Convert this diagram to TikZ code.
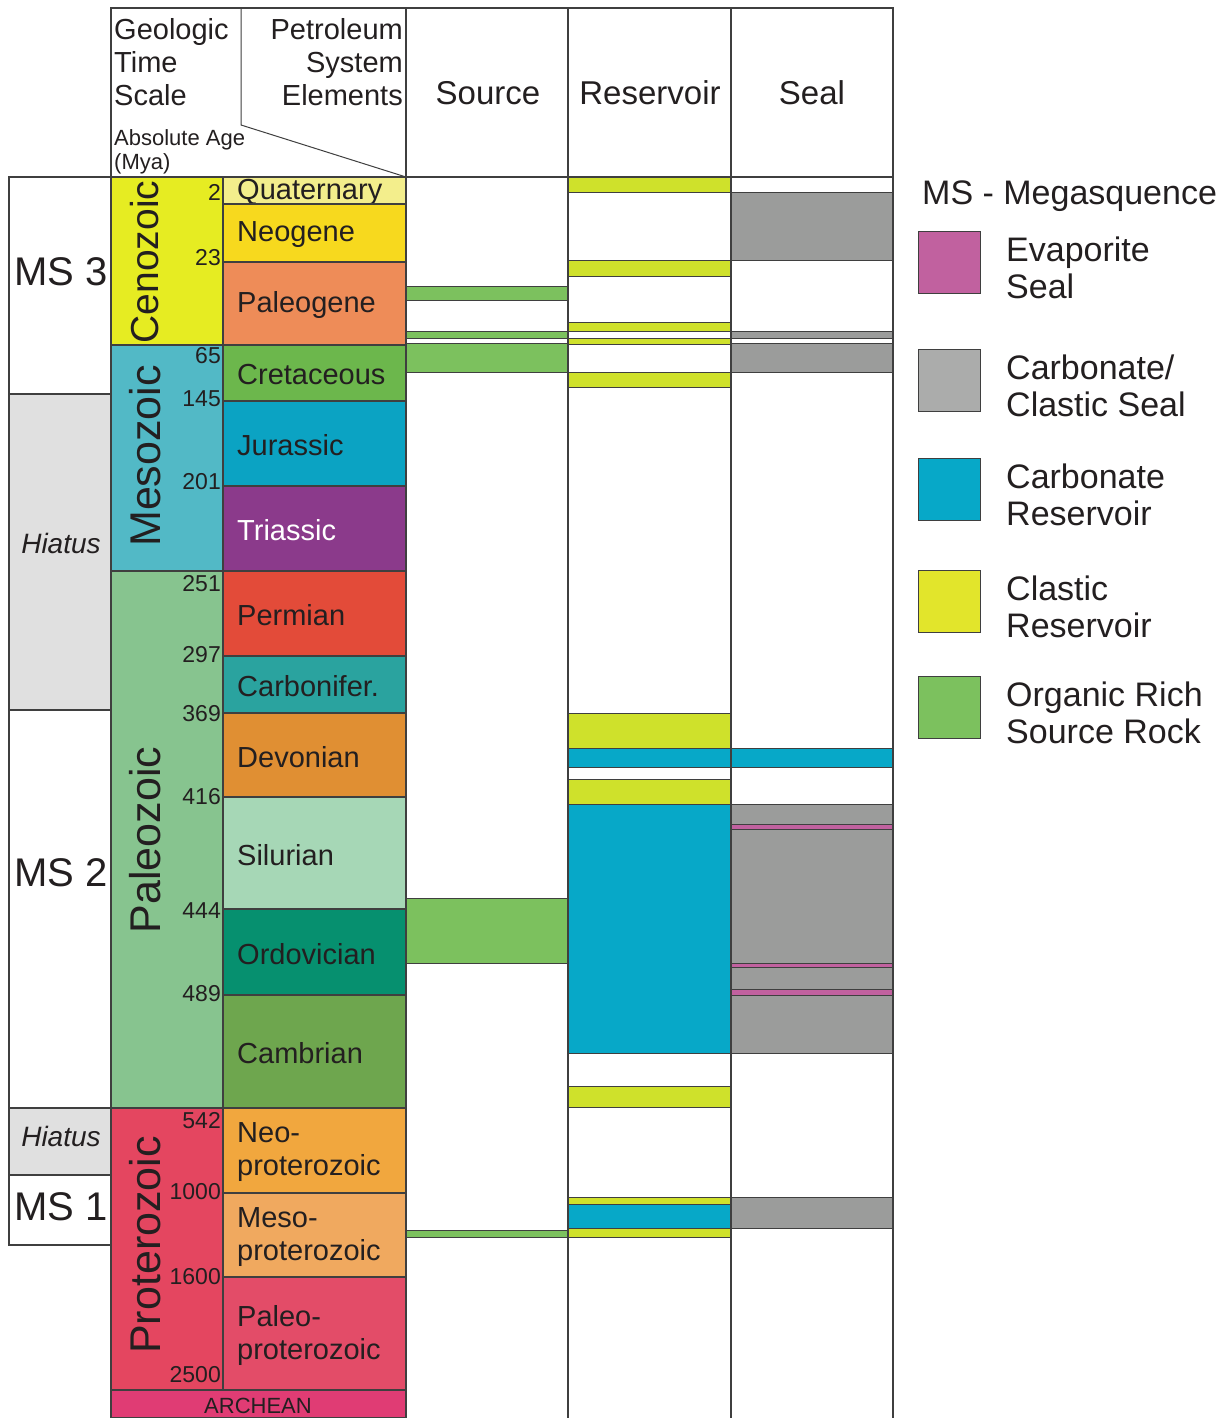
\documentclass[tikz,border=0pt]{standalone}
\usepackage{fontspec}
\setmainfont{Liberation Sans}
\usepackage{tikz}

\definecolor{linegray}{HTML}{3F3F3F}
\definecolor{textdark}{HTML}{231F20}
\definecolor{hiatusgray}{HTML}{E0E0E0}
\definecolor{cQuat}{HTML}{F3EE8C}
\definecolor{cNeog}{HTML}{F7D91E}
\definecolor{cPaleog}{HTML}{EE8C58}
\definecolor{cCret}{HTML}{6CB74C}
\definecolor{cJur}{HTML}{0BA3C3}
\definecolor{cTri}{HTML}{8B3A8B}
\definecolor{cPerm}{HTML}{E34B39}
\definecolor{cCarb}{HTML}{2AA39F}
\definecolor{cDev}{HTML}{E08F33}
\definecolor{cSil}{HTML}{A6D7B6}
\definecolor{cOrd}{HTML}{06906F}
\definecolor{cCamb}{HTML}{6EA64E}
\definecolor{cNeoP}{HTML}{F1A73E}
\definecolor{cMesoP}{HTML}{F0A95F}
\definecolor{cPaleoP}{HTML}{E34C68}
\definecolor{cCeno}{HTML}{E6EC22}
\definecolor{cMeso}{HTML}{52B9C6}
\definecolor{cPaleoz}{HTML}{87C48F}
\definecolor{cProt}{HTML}{E44660}
\definecolor{cArch}{HTML}{E03C74}
\definecolor{resyellow}{HTML}{CFE12B}
\definecolor{carbblue}{HTML}{07A8C8}
\definecolor{sealgray}{HTML}{9B9C9B}
\definecolor{srcgreen}{HTML}{7CC15E}
\definecolor{evappink}{HTML}{C1619F}
\definecolor{leggray}{HTML}{ABACAB}
\definecolor{legyellow}{HTML}{E2E52B}

\tikzset{
  cell/.style={draw=linegray,line width=1.3pt},
  bar/.style={draw=linegray,line width=1pt},
  gridline/.style={draw=linegray,line width=1.3pt},
  pername/.style={anchor=west,inner sep=0pt,align=left,font=\fontsize{29}{33}\selectfont},
  agelabel/.style={anchor=east,inner sep=0pt,text=textdark,font=\fontsize{23}{23}\selectfont},
  eraname/.style={rotate=90,inner sep=0pt,text=textdark,font=\fontsize{43}{43}\selectfont},
  mslabel/.style={inner sep=0pt,text=textdark,font=\fontsize{40}{40}\selectfont},
  hiatuslabel/.style={inner sep=0pt,text=textdark,font=\fontsize{28}{28}\selectfont\itshape},
  headtext/.style={inner sep=0pt,text=textdark,font=\fontsize{29}{33}\selectfont},
  colhead/.style={inner sep=0pt,text=textdark,font=\fontsize{33}{33}\selectfont},
  legtext/.style={anchor=west,inner sep=0pt,align=left,text=textdark,font=\fontsize{34}{37}\selectfont}
}

\begin{document}
\begin{tikzpicture}[x=1pt,y=-1pt]
    \useasboundingbox[fill=white] (0,0) rectangle (1231,1418);

    \begin{scope}
    \foreach \top/\bot/\col in {177/394/white,394/710/hiatusgray,710/1108/white,1108/1175/hiatusgray,1175/1245/white}
      \draw[cell,fill=\col] (9,\top) rectangle (111,\bot);
    \node[mslabel] (ms3) at (61,272) {MS 3};
    \node[hiatuslabel] (hiatus-upper) at (61,543) {Hiatus};
    \node[mslabel] (ms2) at (61,873) {MS 2};
    \node[hiatuslabel] (hiatus-lower) at (61,1136) {Hiatus};
    \node[mslabel] (ms1) at (61,1207) {MS 1};
    \end{scope}

    \begin{scope}
    \foreach \top/\bot/\col in {177/345/cCeno,345/571/cMeso,571/1108/cPaleoz,1108/1390/cProt}
      \draw[cell,fill=\col] (111,\top) rectangle (223,\bot);
    \node[eraname,font=\fontsize{39}{39}\selectfont] (ceno) at (145,262) {Cenozoic};
    \node[eraname] (meso) at (145,456) {Mesozoic};
    \node[eraname] (paleoz) at (145,840) {Paleozoic};
    \node[eraname] (prot) at (145,1245) {Proterozoic};
    \end{scope}

    \begin{scope}
    \foreach \nm/\top/\bot/\col/\tc/\txt in {
        quat/177/204/cQuat/textdark/Quaternary,
        neog/204/262/cNeog/textdark/Neogene,
        paleog/262/345/cPaleog/textdark/Paleogene,
        cret/345/401/cCret/textdark/Cretaceous,
        jur/401/486/cJur/textdark/Jurassic,
        tri/486/571/cTri/white/Triassic,
        perm/571/656/cPerm/textdark/Permian,
        carb/656/713/cCarb/textdark/Carbonifer.,
        dev/713/797/cDev/textdark/Devonian,
        sil/797/909/cSil/textdark/Silurian,
        ord/909/995/cOrd/textdark/Ordovician,
        camb/995/1108/cCamb/textdark/Cambrian,
        neop/1108/1193/cNeoP/textdark/Neo-\\proterozoic,
        mesop/1193/1277/cMesoP/textdark/Meso-\\proterozoic,
        paleop/1277/1390/cPaleoP/textdark/Paleo-\\proterozoic}
    {
      \draw[cell,fill=\col] (223,\top) rectangle (406,\bot);
      \node[pername,text=\tc] (per-\nm) at (237,{(\top+\bot)/2+2}) {\txt};
    }
    \draw[cell,fill=cArch] (111,1390) rectangle (406,1418);
    \node[inner sep=0pt,text=textdark,font=\fontsize{22}{22}\selectfont] (archean) at (258,1406) {ARCHEAN};
    \foreach \a/\y in {2/192,23/258,65/356,145/399,201/482,251/584,297/655,369/714,416/797,444/911,489/994,542/1121,1000/1192,1600/1277,2500/1375}
      \node[agelabel] (age-\a) at (221,\y) {\a};
    \end{scope}

    \foreach \x/\xx/\top/\bot/\col in {
        406/568/286/300/srcgreen, 406/568/331/338/srcgreen, 406/568/343/372/srcgreen,
        406/568/898/963/srcgreen, 406/568/1230/1237/srcgreen,
        568/731/177/192/resyellow, 568/731/260/276/resyellow, 568/731/322/331/resyellow,
        568/731/338/344/resyellow, 568/731/372/387/resyellow, 568/731/713/748/resyellow,
        568/731/779/804/resyellow, 568/731/1086/1107/resyellow, 568/731/1197/1204/resyellow,
        568/731/1228/1237/resyellow,
        568/893/748/767/carbblue, 568/731/804/1053/carbblue, 568/731/1204/1228/carbblue,
        731/893/192/260/sealgray, 731/893/331/338/sealgray, 731/893/343/372/sealgray,
        731/893/804/1053/sealgray, 731/893/1197/1228/sealgray,
        731/893/824/829/evappink, 731/893/963/967/evappink, 731/893/989/995/evappink}
      \draw[bar,fill=\col] (\x,\top) rectangle (\xx,\bot);

    \draw[gridline] (111,1418) -- (111,8) -- (893,8) -- (893,1418);
    \foreach \x in {406,568,731}
      \draw[gridline] (\x,8) -- (\x,1418);
    \draw[gridline] (406,177) -- (893,177);
    \draw[line width=1pt,draw=linegray] (241,8) -- (241,125) -- (406,177);

    \node[headtext,anchor=west,align=left] (geo-head) at (114,62) {Geologic\\Time\\Scale};
    \node[headtext,anchor=east,align=right] (pse-head) at (403,62) {Petroleum\\System\\Elements};
    \node[headtext,anchor=west,align=left,font=\fontsize{22}{24}\selectfont] (age-head) at (114,152) {Absolute Age\\(Mya)};
    \node[colhead] (src-head) at (488,93) {Source};
    \node[colhead] (res-head) at (650,93) {Reservoir};
    \node[colhead] (seal-head) at (812,93) {Seal};

    \node[inner sep=0pt,anchor=west,text=textdark,font=\fontsize{34}{34}\selectfont] (ms-key) at (922,196) {MS - Megasquence};
    \foreach \i/\col/\y/\txt in {
        evap/evappink/262/{Evaporite\\Seal},
        clseal/leggray/380/{Carbonate/\\Clastic Seal},
        carbres/carbblue/489/{Carbonate\\Reservoir},
        clres/legyellow/601/{Clastic\\Reservoir},
        src/srcgreen/707/{Organic Rich\\Source Rock}}
    {
      \draw[bar,fill=\col] (918,{\y-31}) rectangle (980,{\y+31});
      \node[legtext] (leg-\i) at (1006,{\y+6}) {\txt};
    }
\end{tikzpicture}
\end{document}
